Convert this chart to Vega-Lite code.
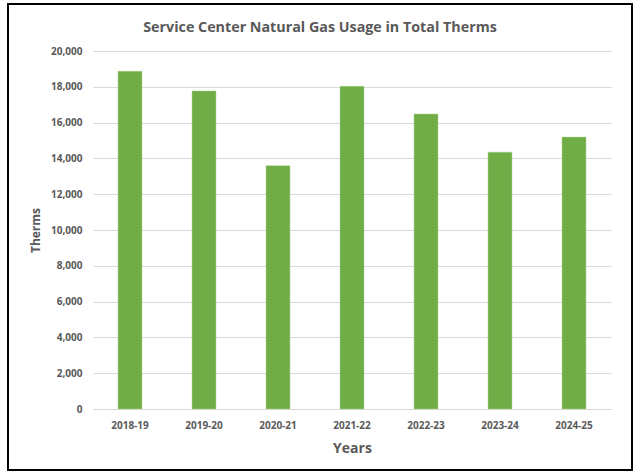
{
  "$schema": "https://vega.github.io/schema/vega-lite/v6.json",
  "autosize": "none",
  "padding": {"left": 8, "top": 4, "right": 7, "bottom": 3},
  "width": 624,
  "height": 466,
  "background": "white",
  "title": {
    "text": "Service Center Natural Gas Usage in Total Therms",
    "font": "Open Sans",
    "fontSize": 14.3,
    "fontWeight": "bold",
    "color": "#595959",
    "anchor": "middle",
    "frame": "group",
    "baseline": "alphabetic",
    "offset": -42
  },
  "data": {
    "values": [
      {"year": "2018-19", "therms": 18870},
      {"year": "2019-20", "therms": 17770},
      {"year": "2020-21", "therms": 13590},
      {"year": "2021-22", "therms": 18030},
      {"year": "2022-23", "therms": 16480},
      {"year": "2023-24", "therms": 14350},
      {"year": "2024-25", "therms": 15190}
    ]
  },
  "mark": {"type": "bar", "color": "#70AD47", "stroke": "#A9D18E", "strokeWidth": 0.5},
  "encoding": {
    "x": {
      "field": "year",
      "type": "nominal",
      "sort": null,
      "title": "Years",
      "scale": {"range": [85, 603], "paddingInner": 0.676, "paddingOuter": 0.338},
      "axis": {
        "offset": -61,
        "labelAngle": 0,
        "domainColor": "#D9D9D9",
        "domainWidth": 1,
        "ticks": false,
        "labelPadding": 11,
        "labelFont": "Open Sans",
        "labelFontSize": 10,
        "labelFontWeight": "bold",
        "labelColor": "#595959",
        "titleFont": "Open Sans",
        "titleFontSize": 14,
        "titleFontWeight": "bold",
        "titleColor": "#595959",
        "titlePadding": 11
      }
    },
    "y": {
      "field": "therms",
      "type": "quantitative",
      "title": "Therms",
      "scale": {"domain": [0, 20000], "range": [405, 47], "nice": false},
      "axis": {
        "offset": -85,
        "values": [0, 2000, 4000, 6000, 8000, 10000, 12000, 14000, 16000, 18000, 20000],
        "format": ",d",
        "domain": false,
        "ticks": false,
        "labelPadding": 11,
        "gridColor": "#D9D9D9",
        "gridWidth": 1,
        "labelFont": "Open Sans",
        "labelFontSize": 10,
        "labelFontWeight": "bold",
        "labelColor": "#595959",
        "titleFont": "Open Sans",
        "titleFontSize": 12,
        "titleFontWeight": "bold",
        "titleColor": "#595959",
        "titlePadding": 8
      }
    }
  },
  "config": {
    "view": {"stroke": "#000000", "strokeWidth": 2}
  }
}
